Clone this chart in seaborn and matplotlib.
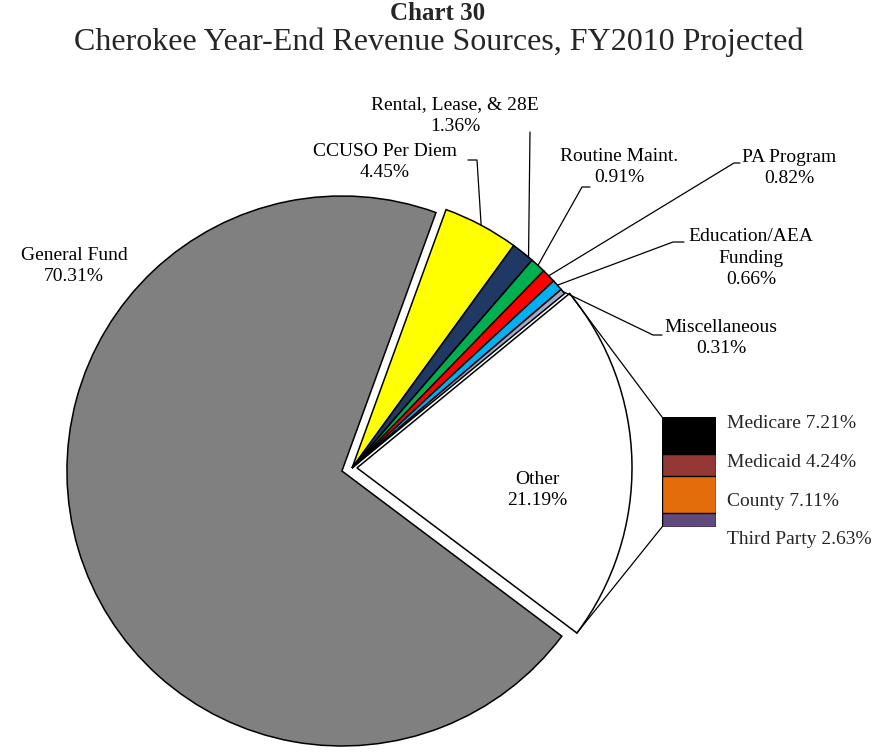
import numpy as np
import matplotlib
matplotlib.use("Agg")
import matplotlib.pyplot as plt
import seaborn as sns

# Revenue sources (percent of total), clockwise from the CCUSO slice
sources = ["CCUSO Per Diem", "Rental, Lease, & 28E", "Routine Maint.", "PA Program",
           "Education/AEA\nFunding", "Miscellaneous", "Other", "General Fund"]
shares = [4.45, 1.36, 0.91, 0.82, 0.66, 0.31, 21.19, 70.31]
share_labels = ["4.45%", "1.36%", "0.91%", "0.82%", "0.66%", "0.31%", "21.19%", "70.31%"]
slice_colors = ["#FFFF00", "#1F3864", "#00B050", "#FF0000", "#00B0F0", "#A5A9C8",
                "#FFFFFF", "#808080"]

# Breakdown of the "Other" slice, top to bottom of the stacked bar
other_parts = ["Medicare", "Medicaid", "County", "Third Party"]
other_shares = [7.21, 4.24, 7.11, 2.63]
other_labels = ["Medicare 7.21%", "Medicaid 4.24%", "County 7.11%", "Third Party 2.63%"]
other_colors = ["#000000", "#953735", "#E46C0A", "#604A7B"]

sns.set_theme(style="white")
plt.rcParams["font.family"] = ["Liberation Serif", "DejaVu Serif"]

W, H = 877, 753
fig = plt.figure(figsize=(W / 100, H / 100), dpi=100)
fig.patch.set_facecolor("white")

# main axes in pixel units (y up)
ax = fig.add_axes([0, 0, 1, 1])
cx, cy, R = 352, H - 468, 275
# offsets of the pulled-out slices, in pixels
explode = [0, 0, 0, 0, 0, 0, 5, 10.5]
wedges, _ = ax.pie(shares, colors=slice_colors, explode=explode, startangle=70,
                   counterclock=False, center=(cx, cy), radius=R,
                   wedgeprops=dict(edgecolor="black", linewidth=1.1))
ax.set_xlim(0, W)
ax.set_ylim(0, H)
ax.set_aspect("auto")
ax.axis("off")

def P(x, y):
    return x, H - y

def arc_point(w, frac=0.5):
    t = np.deg2rad(w.theta1 + (w.theta2 - w.theta1) * frac)
    return w.center[0] + w.r * np.cos(t), w.center[1] + w.r * np.sin(t)

fs = 14
lab_kw = dict(fontsize=fs, ha="center", va="center", color="black", linespacing=1.38)

# labels of the small slices: (text anchor, point on the arc, leader path)
small = [
    ((385, 162), 0.5, [(477, 160), (468, 160)]),
    ((455, 116), 0.2, [(530, 132)]),
    ((619, 167), 0.5, [(582, 187), (590, 187)]),
    ((789, 168), 0.5, [(734, 163), (740, 163)]),
    ((751, 258), 0.5, [(673, 242), (684, 242)]),
    ((721, 338), 0.5, [(653, 335), (662, 335)]),
]
for i, (anchor, frac, path) in enumerate(small):
    x0, y0 = arc_point(wedges[i], frac)
    xs = [x0] + [P(*p)[0] for p in path]
    ys = [y0] + [P(*p)[1] for p in path]
    ax.plot(xs, ys, color="black", lw=0.9)
    ax.text(*P(*anchor), f"{sources[i]}\n{share_labels[i]}", **lab_kw)

ax.text(*P(74, 266), f"{sources[7]}\n{share_labels[7]}", **lab_kw)
ax.text(*P(537, 490), f"{sources[6]}\n{share_labels[6]}", **lab_kw)

# stacked bar breaking down "Other"
bl, bt, bw, bh = 662, 417, 54, 110
bax = fig.add_axes([bl / W, (H - bt - bh) / H, bw / W, bh / H])
total = sum(other_shares)
tops = total - np.concatenate([[0], np.cumsum(other_shares)[:-1]])
for top, col in zip(tops, other_colors):
    sns.barplot(x=[0], y=[top], color=col, width=1, saturation=1,
                edgecolor="black", linewidth=1, ax=bax)
bax.set_xlim(-0.5, 0.5)
bax.set_ylim(0, total)
bax.axis("off")

for i, txt in enumerate(other_labels):
    ax.text(*P(727, 423 + 39 * i), txt, fontsize=fs, ha="left", va="center")

# connectors from the "Other" slice to the bar
ow = wedges[6]
p_top = arc_point(ow, 0.0 if ow.theta1 > ow.theta2 else 1.0)
p_bot = arc_point(ow, 1.0 if ow.theta1 > ow.theta2 else 0.0)
ax.plot([p_top[0], bl], [p_top[1], H - bt], color="black", lw=0.9)
ax.plot([p_bot[0], bl], [p_bot[1], H - bt - bh], color="black", lw=0.9)

fig.text(438 / W, 1 - 14 / H, "Chart 30", fontsize=18, fontweight="bold",
         ha="center", va="center")
fig.text(439 / W, 1 - 42 / H, "Cherokee Year-End Revenue Sources, FY2010 Projected",
         fontsize=23, ha="center", va="center")

fig.savefig("out.png", dpi=100, facecolor="white")
